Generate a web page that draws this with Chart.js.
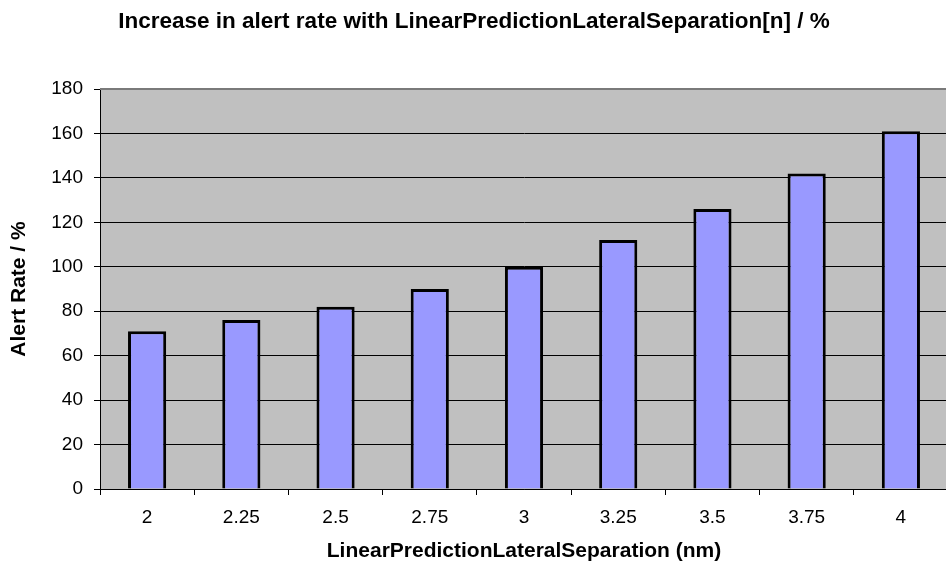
<!DOCTYPE html>
<html>
<head>
<meta charset="utf-8">
<script src="https://cdn.jsdelivr.net/npm/chart.js@4.4.1/dist/chart.umd.min.js"></script>
<style>
  html, body { margin: 0; padding: 0; background: #fff; }
  #wrap { width: 946px; height: 562px; overflow: hidden; position: relative; }
  canvas { display: block; }
</style>
</head>
<body>
<div id="wrap"><canvas id="c" width="950" height="562"></canvas></div>
<script>
const categories = ["2", "2.25", "2.5", "2.75", "3", "3.25", "3.5", "3.75", "4"];
const alertRate = [71, 76, 82, 90, 100, 112, 126, 142, 161];
const yTickMin = 0, yTickMax = 180, yTickStep = 20;
const titleText = "Increase in alert rate with LinearPredictionLateralSeparation[n] / %";
const xTitle = "LinearPredictionLateralSeparation (nm)";
const yTitle = "Alert Rate / %";

const FONT = "'Liberation Sans', Arial, Helvetica, sans-serif";

const plotBg = {
  id: 'plotBg',
  beforeDraw(chart) {
    const {ctx, chartArea: a} = chart;
    ctx.save();
    ctx.fillStyle = '#C0C0C0';
    ctx.fillRect(a.left, a.top, a.right - a.left, a.bottom - a.top);
    ctx.restore();
  },
  afterDatasetsDraw(chart) {
    const {ctx, chartArea: a} = chart;
    ctx.save();
    ctx.strokeStyle = '#7a7a7a';
    ctx.lineWidth = 2;
    ctx.beginPath();
    ctx.moveTo(a.left, a.top);
    ctx.lineTo(a.right + 5, a.top);
    ctx.stroke();
    ctx.restore();
  }
};

new Chart(document.getElementById('c'), {
  type: 'bar',
  data: {
    labels: categories,
    datasets: [{
      data: alertRate,
      backgroundColor: '#9999FF',
      borderColor: '#000000',
      borderWidth: 3,
      borderSkipped: 'bottom',
      barPercentage: 0.405,
      categoryPercentage: 1.0
    }]
  },
  plugins: [plotBg],
  options: {
    responsive: false,
    animation: false,
    devicePixelRatio: 1,
    layout: { padding: { left: 0, right: 2, top: 0, bottom: 0 } },
    plugins: {
      legend: { display: false },
      tooltip: { enabled: false },
      title: {
        display: true,
        text: titleText,
        color: '#000',
        font: { family: FONT, size: 22.5, weight: 'bold', lineHeight: 1.2 },
        padding: { top: 8, bottom: 54 }
      }
    },
    scales: {
      x: {
        afterFit(scale) { scale.height = 73; },
        grid: {
          display: true,
          drawOnChartArea: false,
          drawTicks: true,
          tickLength: 6,
          tickColor: '#000',
          offset: true
        },
        border: { display: true, color: '#000', width: 1 },
        ticks: {
          color: '#000',
          padding: 11,
          maxRotation: 0,
          font: { family: FONT, size: 19 }
        },
        title: {
          display: true,
          text: xTitle,
          color: '#000',
          font: { family: FONT, size: 21, weight: 'bold', lineHeight: 1.0 },
          padding: { top: 0, bottom: 0 }
        }
      },
      y: {
        min: yTickMin,
        max: yTickMax,
        afterFit(scale) { scale.width = 100; },
        grid: {
          color: '#000',
          lineWidth: 1,
          drawTicks: true,
          tickLength: 6,
          tickColor: '#000'
        },
        border: { display: true, color: '#000', width: 1 },
        ticks: {
          stepSize: yTickStep,
          color: '#000',
          padding: 11,
          font: { family: FONT, size: 19 }
        },
        title: {
          display: true,
          text: yTitle,
          color: '#000',
          font: { family: FONT, size: 21, weight: 'bold', lineHeight: 1.2 },
          padding: { top: 7, bottom: 0 }
        }
      }
    }
  }
});
</script>
</body>
</html>
